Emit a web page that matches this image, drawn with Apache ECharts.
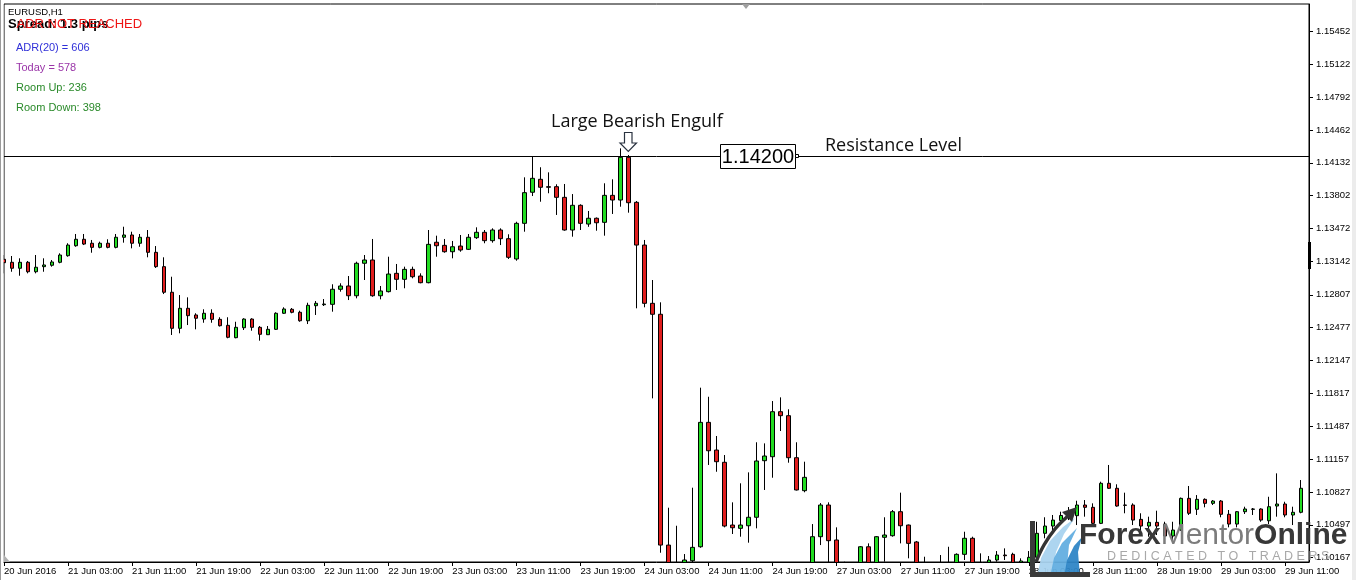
<!DOCTYPE html>
<html><head><meta charset="utf-8">
<script src="https://cdn.jsdelivr.net/npm/echarts@6/dist/echarts.min.js"></script>
<style>html,body{margin:0;padding:0;background:#fff;}#c{width:1356px;height:580px;}</style>
</head><body><div id="c"></div>
<script>
const opens = [1.13163,1.13133,1.13073,1.13133,1.13038,1.13089,1.13103,1.13133,1.13199,1.13299,
1.13364,1.13324,1.13283,1.13324,1.13283,1.13384,1.13407,1.13324,1.13384,1.13233,
1.13089,1.12832,1.12470,1.12671,1.12604,1.12563,1.12621,1.12560,1.12500,1.12376,
1.12476,1.12563,1.12480,1.12406,1.12460,1.12621,1.12661,1.12631,1.12546,1.12697,
1.12707,1.12711,1.12862,1.12895,1.12797,1.13123,1.13156,1.12797,1.12838,1.13022,
1.12962,1.13062,1.12995,1.12928,1.13334,1.13303,1.13239,1.13296,1.13263,1.13380,
1.13434,1.13350,1.13457,1.13370,1.13166,1.13524,1.13836,1.13966,1.13892,1.13892,
1.13785,1.13457,1.13705,1.13517,1.13575,1.13534,1.13805,1.13758,1.14187,1.13735,
1.13306,1.12721,1.12611,1.10294,1.09943,1.09993,1.10137,1.10277,1.11526,1.11248,
1.11125,1.10495,1.10462,1.10488,1.10573,1.11141,1.11181,1.11633,1.11593,1.11171,
1.10840,1.09993,1.10378,1.10696,1.10345,1.09993,1.09893,1.09983,1.10277,1.10043,
1.10372,1.10388,1.10629,1.10495,1.10325,1.10064,1.10084,1.10064,1.10094,1.10094,
1.10201,1.10362,1.10094,1.10104,1.10144,1.10194,1.10201,1.10114,1.10094,1.10171,
1.10412,1.10485,1.10540,1.10591,1.10589,1.10696,1.10673,1.10512,1.10914,1.10864,
1.10696,1.10696,1.10552,1.10485,1.10522,1.10505,1.10385,1.10445,1.10763,1.10653,
1.10753,1.10713,1.10736,1.10603,1.10505,1.10629,1.10653,1.10656,1.10538,1.10686,
1.10706,1.10596,1.10623];
const closes = [1.13129,1.13073,1.13133,1.13038,1.13083,1.13106,1.13136,1.13206,1.13306,1.13364,
1.13316,1.13283,1.13324,1.13283,1.13384,1.13407,1.13324,1.13384,1.13233,1.13089,
1.12832,1.12470,1.12671,1.12597,1.12571,1.12621,1.12560,1.12496,1.12380,1.12480,
1.12563,1.12480,1.12410,1.12460,1.12621,1.12664,1.12631,1.12546,1.12701,1.12721,
1.12714,1.12862,1.12895,1.12797,1.13123,1.13156,1.12797,1.12845,1.13015,1.12962,
1.13062,1.12988,1.12928,1.13313,1.13299,1.13239,1.13289,1.13256,1.13384,1.13434,
1.13350,1.13457,1.13370,1.13183,1.13524,1.13832,1.13976,1.13886,1.13886,1.13785,
1.13457,1.13705,1.13524,1.13575,1.13530,1.13805,1.13758,1.14187,1.13731,1.13306,
1.12721,1.12611,1.10294,1.09893,1.10043,1.10144,1.10271,1.11526,1.11241,1.11131,
1.10485,1.10468,1.10495,1.10573,1.11138,1.11188,1.11633,1.11593,1.11171,1.10847,
1.10974,1.10378,1.10696,1.10338,1.09993,1.09943,1.09963,1.10277,1.10043,1.10378,
1.10395,1.10629,1.10488,1.10311,1.10043,1.10084,1.10064,1.10094,1.10114,1.10201,
1.10362,1.10094,1.10074,1.10144,1.10194,1.10187,1.10114,1.10134,1.10171,1.10412,
1.10485,1.10545,1.10591,1.10616,1.10696,1.10673,1.10512,1.10914,1.10864,1.10686,
1.10693,1.10545,1.10485,1.10522,1.10485,1.10385,1.10445,1.10763,1.10613,1.10753,
1.10713,1.10736,1.10603,1.10505,1.10629,1.10656,1.10656,1.10545,1.10679,1.10706,
1.10596,1.10623,1.10864];
const lows = [1.13022,1.13038,1.12998,1.13022,1.13022,1.13038,1.13089,1.13123,1.13189,1.13289,
1.13306,1.13229,1.13273,1.13273,1.13273,1.13330,1.13273,1.13289,1.13183,1.13076,
1.12814,1.12403,1.12420,1.12503,1.12460,1.12526,1.12526,1.12488,1.12370,1.12370,
1.12453,1.12446,1.12346,1.12403,1.12453,1.12614,1.12621,1.12536,1.12513,1.12604,
1.12694,1.12637,1.12838,1.12754,1.12771,1.12955,1.12787,1.12761,1.12830,1.12855,
1.12872,1.12972,1.12922,1.12922,1.13189,1.13229,1.13173,1.13239,1.13256,1.13367,
1.13324,1.13330,1.13306,1.13166,1.13149,1.13440,1.13798,1.13741,1.13826,1.13608,
1.13450,1.13390,1.13457,1.13489,1.13450,1.13400,1.13618,1.13691,1.13631,1.12671,
1.12681,1.11767,1.10217,1.09120,1.09740,1.09840,1.09993,1.10267,1.11098,1.11030,
1.10472,1.10405,1.10378,1.10318,1.10462,1.10847,1.10970,1.11439,1.11121,1.10842,
1.10824,1.09943,1.10294,1.10094,1.09893,1.09843,1.09822,1.09943,1.09963,1.09993,
1.10127,1.10378,1.10311,1.10161,1.09993,1.09993,1.10023,1.10023,1.10043,1.10064,
1.10144,1.10043,1.10023,1.10084,1.10127,1.10144,1.10084,1.10074,1.10064,1.10127,
1.10362,1.10412,1.10520,1.10545,1.10495,1.10579,1.10505,1.10505,1.10857,1.10679,
1.10613,1.10495,1.10428,1.10378,1.10395,1.10372,1.10345,1.10438,1.10596,1.10596,
1.10673,1.10696,1.10573,1.10472,1.10472,1.10606,1.10596,1.10528,1.10505,1.10579,
1.10573,1.10495,1.10613];
const highs = [1.13206,1.13196,1.13173,1.13146,1.13206,1.13173,1.13156,1.13223,1.13324,1.13417,
1.13417,1.13357,1.13340,1.13364,1.13417,1.13490,1.13440,1.13417,1.13457,1.13296,
1.13183,1.12988,1.12804,1.12781,1.12621,1.12661,1.12661,1.12581,1.12581,1.12536,
1.12571,1.12571,1.12493,1.12493,1.12631,1.12681,1.12674,1.12647,1.12727,1.12744,
1.12764,1.12912,1.12922,1.12995,1.13139,1.13206,1.13367,1.12895,1.13189,1.13116,
1.13089,1.13089,1.13022,1.13457,1.13400,1.13367,1.13347,1.13407,1.13417,1.13484,
1.13457,1.13474,1.13474,1.13414,1.13540,1.13986,1.14200,1.14087,1.14036,1.13916,
1.13919,1.13818,1.13715,1.13648,1.13583,1.13926,1.13966,1.14277,1.14210,1.13748,
1.13357,1.12955,1.12731,1.10669,1.10488,1.10204,1.10870,1.11874,1.11783,1.11389,
1.11198,1.10723,1.10914,1.11024,1.11326,1.11315,1.11740,1.11777,1.11657,1.11326,
1.11131,1.10505,1.10716,1.10723,1.10472,1.10127,1.10064,1.10284,1.10311,1.10385,
1.10573,1.10646,1.10820,1.10500,1.10335,1.10177,1.10114,1.10194,1.10277,1.10211,
1.10428,1.10378,1.10211,1.10184,1.10234,1.10261,1.10217,1.10161,1.10234,1.10528,
1.10573,1.10596,1.10629,1.10676,1.10739,1.10746,1.10713,1.10930,1.11098,1.10904,
1.10820,1.10713,1.10613,1.10579,1.10639,1.10528,1.10528,1.10771,1.10887,1.10796,
1.10763,1.10746,1.10746,1.10646,1.10636,1.10679,1.10666,1.10663,1.10779,1.11014,
1.10729,1.10679,1.10947];
const sessions = [['20 Jun',19,23],['21 Jun',0,23],['22 Jun',0,23],['23 Jun',0,23],['24 Jun',0,23],['27 Jun',0,23],['28 Jun',0,23],['29 Jun',0,14]];
const categories = [];
sessions.forEach(function(s){ for (let h = s[1]; h <= s[2]; h++) categories.push(s[0] + ' ' + (h < 10 ? '0' : '') + h + ':00'); });
const tickLabels = ['20 Jun 2016','21 Jun 03:00','21 Jun 11:00','21 Jun 19:00','22 Jun 03:00','22 Jun 11:00','22 Jun 19:00','23 Jun 03:00','23 Jun 11:00','23 Jun 19:00','24 Jun 03:00','24 Jun 11:00','24 Jun 19:00','27 Jun 03:00','27 Jun 11:00','27 Jun 19:00','28 Jun 03:00','28 Jun 11:00','28 Jun 19:00','29 Jun 03:00','29 Jun 11:00'];
const priceTicks = [1.15452,1.15122,1.14792,1.14462,1.14132,1.13802,1.13472,1.13142,1.12807,1.12477,1.12147,1.11817,1.11487,1.11157,1.10827,1.10497,1.10167];
const resistance = 1.14200;
const infoLines = [['ADR(20) = 606','#3030d8'],['Today = 578','#9a35a8'],['Room Up: 236','#2a8a2a'],['Room Down: 398','#2a8a2a']];

const candles = opens.map(function(o, i){ return [o, closes[i], lows[i], highs[i]]; });
const every8 = function(index){ return index % 8 === 0; };
const AX = '"Liberation Sans", Arial, sans-serif';

const graphics = [];
// masks that hide candle parts lying outside the plot box (bottom and left)
graphics.push({type:'rect', shape:{x:0,y:562.6,width:1309,height:18}, style:{fill:'#fff'}, z:5});
graphics.push({type:'rect', shape:{x:0,y:0,width:3.6,height:580}, style:{fill:'#fff'}, z:5});
graphics.push({type:'rect', shape:{x:0,y:0,width:1,height:580}, style:{fill:'#9a9a9a'}, z:10});
graphics.push({type:'rect', shape:{x:1352,y:0,width:4,height:580}, style:{fill:'#ececec'}, z:10});
graphics.push({type:'polygon', shape:{points:[[742,4],[750,4],[746,9]]}, style:{fill:'#a0a0a0'}, z:10});
graphics.push({type:'polygon', shape:{points:[[4,555],[4,562],[10,562]]}, style:{fill:'#b0b0b0'}, z:10});
graphics.push({type:'rect', shape:{x:1308,y:242,width:3,height:27}, style:{fill:'#000'}, z:10});
function txt(t, x, y, font, fill, z){
  return {type:'text', x:x, y:y, z:z||20, style:{text:t, font:font, fill:fill, align:'left', verticalAlign:'middle', textAlign:'left', textVerticalAlign:'middle'}};
}
graphics.push(txt('EURUSD,H1', 8, 12, '9.5px ' + AX, '#000'));
graphics.push(txt('Spread: 1.3 pips', 8, 24.5, 'bold 13px ' + AX, '#000'));
graphics.push(txt('ADR NOT REACHED', 16.5, 24.5, '13px ' + AX, '#ee1515', 21));
infoLines.forEach(function(l, i){ graphics.push(txt(l[0], 16, 48.3 + 20 * i, '11px ' + AX, l[1])); });
const ANN = '"Open Sans", "Noto Sans", sans-serif';
graphics.push(txt('Large Bearish Engulf', 551, 122, '18px ' + ANN, '#111'));
graphics.push(txt('Resistance Level', 825, 145.5, '18px ' + ANN, '#111'));
graphics.push({type:'polygon', z:20, shape:{points:[[624.5,132.5],[632,132.5],[632,143],[636.5,143],[628.3,151.5],[620,143],[624.5,143]]}, style:{fill:'#fff', stroke:'#2a3340', lineWidth:1.2}});
graphics.push({type:'rect', z:20, shape:{x:720.5,y:144.5,width:75,height:24}, style:{fill:'#fff', stroke:'#000', lineWidth:1}});
graphics.push({type:'text', z:21, x:758, y:157, style:{text:'1.14200', font:'20px ' + AX, fill:'#000', align:'center', verticalAlign:'middle', textAlign:'center', textVerticalAlign:'middle'}});
graphics.push({type:'rect', z:20, shape:{x:795.5,y:154.5,width:3,height:3}, style:{fill:'#fff', stroke:'#000', lineWidth:1}});
// watermark logo
graphics.push({type:'polygon', z:30, shape:{points:[[1037,577],[1041,558],[1050,541],[1063,527],[1075,518],[1064,534],[1056,552],[1052,577]]}, style:{fill:'#a9d3ef', opacity:0.95}});
graphics.push({type:'polygon', z:31, shape:{points:[[1050,577],[1054,558],[1062,543],[1077,528],[1069,545],[1066,577]]}, style:{fill:'#63aee0', opacity:0.95}});
graphics.push({type:'polygon', z:32, shape:{points:[[1064,577],[1067,560],[1074,546],[1082,537],[1078,552],[1080,577]]}, style:{fill:'#2f86c6', opacity:0.95}});
graphics.push({type:'polyline', z:33, shape:{points:[[1036,562],[1044,545],[1055,529],[1068,516]], smooth:0.4}, style:{stroke:'#333', lineWidth:3.5, fill:null}});
graphics.push({type:'polygon', z:33, shape:{points:[[1077,507],[1062,512],[1072,522]]}, style:{fill:'#333'}});
graphics.push({type:'rect', z:33, shape:{x:1030,y:521,width:5,height:56}, style:{fill:'#3a3a3a'}});
graphics.push({type:'rect', z:33, shape:{x:1030,y:572,width:60,height:5}, style:{fill:'#3a3a3a'}});
graphics.push({type:'text', z:34, x:1079, y:536, style:{text:'{a|Forex}{b|Mentor}{a|Online}', align:'left', verticalAlign:'middle', textAlign:'left', textVerticalAlign:'middle',
  rich:{a:{font:'bold 30px ' + AX, fill:'#383838'}, b:{font:'30px ' + AX, fill:'#7c7c7c'}}}});
graphics.push(txt('D E D I C A T E D   T O   T R A D E R S', 1107, 557, '12.5px ' + AX, '#a8a8a8', 34));

const chart = echarts.init(document.getElementById('c'), null, {renderer:'canvas'});
chart.setOption({
  animation: false,
  backgroundColor: '#fff',
  grid: {left:4, top:4, right:47, bottom:18, show:true, borderColor:'#000', borderWidth:1, backgroundColor:'#fff', outerBoundsMode:'none'},
  xAxis: {
    type:'category', data:categories, boundaryGap:false, z:12,
    axisLine:{show:true, lineStyle:{color:'#000', width:1}},
    axisTick:{show:true, interval:every8, length:4, lineStyle:{color:'#000'}},
    axisLabel:{interval:every8, formatter:function(v, i){ return tickLabels[i / 8]; }, align:'left', margin:4, color:'#000', fontSize:9.5, fontFamily:AX},
    splitLine:{show:false}
  },
  yAxis: {
    type:'value', position:'right', min:1.10124, max:1.15726, scale:true, z:12,
    axisLine:{show:true, lineStyle:{color:'#000', width:1}},
    axisTick:{show:true, length:4, lineStyle:{color:'#000'}, customValues:priceTicks},
    axisLabel:{customValues:priceTicks, formatter:function(v){ return Number(v).toFixed(5); }, color:'#000', fontSize:9.5, fontFamily:AX, margin:7},
    splitLine:{show:false}
  },
  series: [{
    type:'candlestick', data:candles, barWidth:4, clip:true,
    itemStyle:{color:'#22dd22', color0:'#e01e1e', borderColor:'#000', borderColor0:'#000', borderColorDoji:'#000', borderWidth:1},
    markLine:{silent:true, precision:5, symbol:['none','none'], label:{show:false}, lineStyle:{color:'#000', width:1, type:'solid'}, data:[{yAxis:resistance}]}
  }],
  graphic: graphics
});
</script></body></html>
